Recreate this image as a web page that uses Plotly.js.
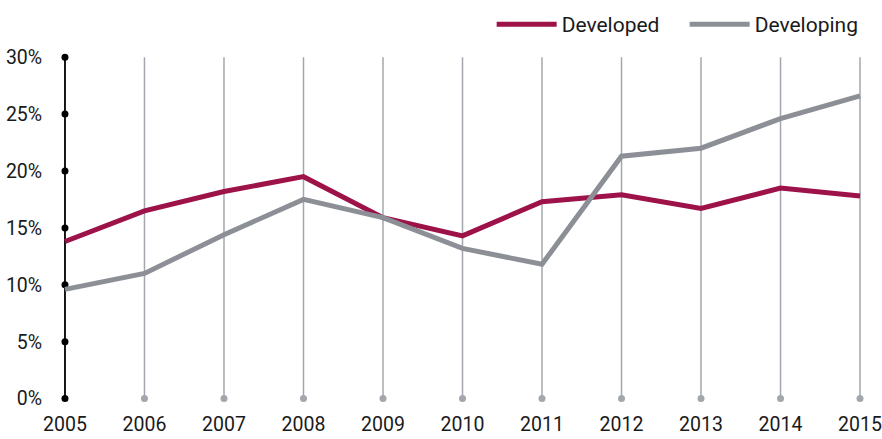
<!DOCTYPE html>
<html>
<head>
<meta charset="utf-8">
<script src="https://cdn.plot.ly/plotly-3.0.1.min.js"></script>
<style>
  html, body { margin: 0; padding: 0; background: #fff; }
  #chart { width: 882px; height: 439px; }
</style>
</head>
<body>
<div id="chart"></div>
<script>
var years = [2005, 2006, 2007, 2008, 2009, 2010, 2011, 2012, 2013, 2014, 2015];
var developed = [13.8, 16.5, 18.2, 19.5, 15.9, 14.3, 17.3, 17.9, 16.7, 18.5, 17.8];
var developing = [9.6, 11.0, 14.4, 17.5, 15.9, 13.2, 11.8, 21.3, 22.0, 24.6, 26.6];
var yTicks = [0, 5, 10, 15, 20, 25, 30];
var yTickText = ["0%", "5%", "10%", "15%", "20%", "25%", "30%"];

var font = "Roboto, 'Open Sans', sans-serif";
var gridColor = "#a3a7ad";

// vertical guide lines for each year after the first, from 0 to the top tick
var gx = [], gy = [];
years.slice(1).forEach(function (yr) {
  gx.push(yr, yr, null);
  gy.push(0, yTicks[yTicks.length - 1], null);
});

var traces = [
  {
    x: gx, y: gy, type: "scatter", mode: "lines",
    line: { color: gridColor, width: 1.5 },
    hoverinfo: "skip", showlegend: false
  },
  {
    x: years.slice(1), y: years.slice(1).map(function () { return 0; }),
    type: "scatter", mode: "markers", cliponaxis: false,
    marker: { color: gridColor, size: 7 },
    hoverinfo: "skip", showlegend: false
  },
  {
    // y axis drawn as a line with dots at every tick
    x: yTicks.map(function () { return years[0]; }), y: yTicks,
    type: "scatter", mode: "lines+markers", cliponaxis: false,
    line: { color: "#000", width: 1.8 },
    marker: { color: "#000", size: 7 },
    hoverinfo: "skip", showlegend: false
  },
  {
    x: years, y: developed, name: "Developed",
    type: "scatter", mode: "lines",
    line: { color: "#9c1249", width: 5 }
  },
  {
    x: years, y: developing, name: "Developing",
    type: "scatter", mode: "lines",
    line: { color: "#8c9096", width: 5 }
  }
];

var layout = {
  width: 882, height: 439,
  margin: { l: 61, r: 14, t: 4, b: 37 },
  paper_bgcolor: "#fff", plot_bgcolor: "#fff",
  font: { family: font, color: "#1a1a1a" },
  showlegend: true,
  legend: {
    orientation: "h", x: 1.017, xanchor: "right", y: 1.0, yanchor: "top",
    bgcolor: "rgba(0,0,0,0)",
    font: { size: 21, family: font, color: "#1a1a1a" },
    itemwidth: 60, entrywidth: 118, traceorder: "normal"
  },
  xaxis: {
    range: [2004.95, 2015.05],
    tickvals: years, ticktext: years.map(String),
    ticklabeloverflow: "allow", ticklabelshift: -4.5,
    showgrid: false, zeroline: false, showline: false,
    ticks: "outside", ticklen: 5, tickcolor: "rgba(0,0,0,0)",
    tickfont: { size: 19.5, family: font, color: "#1a1a1a" }
  },
  yaxis: {
    domain: [0, 0.875],
    range: [-0.3, 30.3],
    tickvals: yTicks, ticktext: yTickText,
    showgrid: false, zeroline: false, showline: false,
    ticks: "outside", ticklen: 14, tickcolor: "rgba(0,0,0,0)",
    tickfont: { size: 19.5, family: font, color: "#1a1a1a" }
  }
};

Plotly.newPlot("chart", traces, layout, { displayModeBar: false, responsive: false });
</script>
</body>
</html>
